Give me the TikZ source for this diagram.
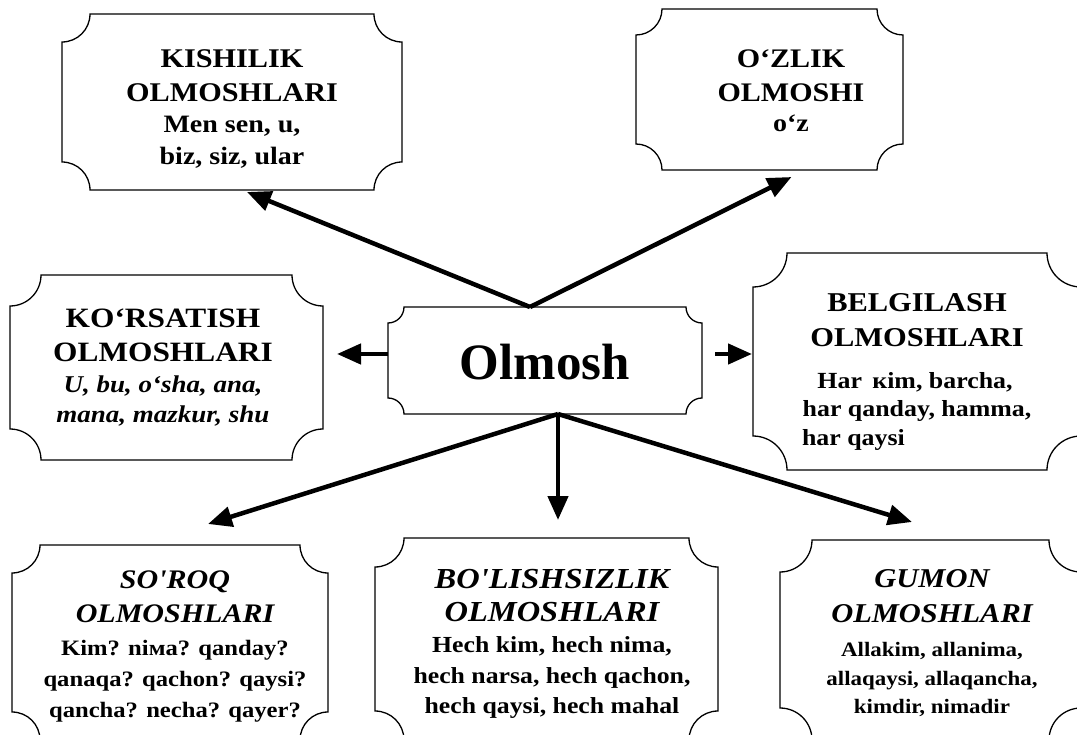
\documentclass[tikz,border=0pt]{standalone}
\usepackage{fontspec}
\setmainfont{Liberation Serif}[FakeStretch=1.12, Ligatures=TeXOff]
\newfontfamily\bigfont{Liberation Serif}
\usetikzlibrary{calc,arrows.meta}
\newcommand\fsz[1]{\fontsize{#1}{#1}\selectfont}
\newcommand\scallop[2]{%
  \draw[boxline] let \p1=(#1.south west), \p2=(#1.north east) in
   (\x1,\y1+#2) -- (\x1,\y2-#2) arc[start angle=270,end angle=360,radius=#2]
   -- (\x2-#2,\y2) arc[start angle=180,end angle=270,radius=#2]
   -- (\x2,\y1+#2) arc[start angle=90,end angle=180,radius=#2]
   -- (\x1+#2,\y1) arc[start angle=0,end angle=90,radius=#2] -- cycle;}
\tikzset{
  boxline/.style={line width=1.3pt, black},
  frame/.style={rectangle, inner sep=0pt, outer sep=0pt},
  txt/.style={anchor=base, inner sep=0pt, outer sep=0pt},
  ttl/.style={txt, font=\bfseries\fsz{#1}},
  ttli/.style={txt, font=\bfseries\itshape\fsz{#1}},
  bod/.style={txt, font=\bfseries\fsz{#1}},
  bodi/.style={txt, font=\bfseries\itshape\fsz{#1}},
  arr/.style={line width=4.5pt, -{Triangle[length=24pt,width=20pt]}}
}
\begin{document}
\begin{tikzpicture}[x=1pt,y=1pt]
\useasboundingbox (0,-735) rectangle (1077,0);
\fill[white] (0,-735) rectangle (1077,0);

% frames
\node[frame, minimum width=340pt, minimum height=176pt] (kish) at (232,-102) {};
\node[frame, minimum width=267pt, minimum height=161pt] (ozl) at (769.5,-89.5) {};
\node[frame, minimum width=313pt, minimum height=185pt] (kors) at (166.5,-367.5) {};
\node[frame, minimum width=314pt, minimum height=107pt] (olm) at (545,-360.5) {};
\node[frame, minimum width=328pt, minimum height=217pt] (belg) at (917,-361.5) {};
\node[frame, minimum width=316pt, minimum height=195pt] (soroq) at (170,-642.5) {};
\node[frame, minimum width=343pt, minimum height=202pt] (bol) at (546.5,-639) {};
\node[frame, minimum width=301pt, minimum height=200pt] (gum) at (930.5,-640) {};

\scallop{kish}{28pt}
\scallop{ozl}{26pt}
\scallop{kors}{31pt}
\scallop{olm}{16pt}
\scallop{belg}{34pt}
\scallop{soroq}{28pt}
\scallop{bol}{29pt}
\scallop{gum}{32pt}

% texts
\node[ttl=27] (kisht1) at (232,-68) {KISHILIK};
\node[ttl=27] (kisht2) at (232,-102) {OLMOSHLARI};
\node[bod=25] (kishb1) at (232,-133) {Men sen, u,};
\node[bod=25] (kishb2) at (232,-165) {biz, siz, ular};

\node[ttl=26.8] (ozlt1) at (791,-68) {O‘ZLIK};
\node[ttl=26.8] (ozlt2) at (791,-102) {OLMOSHI};
\node[bod=25] (ozlb1) at (791,-132) {o‘z};

\node[ttl=28] (korst1) at (163,-328) {KO‘RSATISH};
\node[ttl=28] (korst2) at (163,-362) {OLMOSHLARI};
\node[bodi=24.1] (korsb1) at (163,-392) {U, bu, o‘sha, ana,};
\node[bodi=24.1] (korsb2) at (163,-423) {mana, mazkur, shu};

\node[txt, font=\bigfont\bfseries\fsz{51}] (olmt) at (545,-380) {Olmosh};

\node[ttl=27.2] (belgt1) at (917,-312) {BELGILASH};
\node[ttl=27.2] (belgt2) at (917,-347) {OLMOSHLARI};
\node[bod=23.1] (belgb1) at (915,-389) {Har\hspace{0.45em}кim, barcha,};
\node[bod=23.1] (belgb2) at (917,-417) {har qanday, hamma,};
\node[bod=23.1, anchor=base west] (belgb3) at (802,-445) {har qaysi};

\node[ttli=26.8] (soroqt1) at (175,-588) {SO'ROQ};
\node[ttli=26.8] (soroqt2) at (175,-622) {OLMOSHLARI};
\node[bod=22] (soroqb1) at (175,-655) {Kim? niмa? qanday?};
\node[bod=22] (soroqb2) at (175,-686) {qanaqa? qachon? qaysi?};
\node[bod=22] (soroqb3) at (175,-717) {qancha? necha? qayer?};

\node[ttli=29] (bolt1) at (552,-588) {BO'LISHSIZLIK};
\node[ttli=29] (bolt2) at (552,-621) {OLMOSHLARI};
\node[bod=23] (bolb1) at (552,-652) {Hech kim, hech nima,};
\node[bod=23] (bolb2) at (552,-683) {hech narsa, hech qachon,};
\node[bod=23] (bolb3) at (552,-713) {hech qaysi, hech mahal};

\node[ttli=27.2] (gumt1) at (932,-587) {GUMON};
\node[ttli=27.2] (gumt2) at (932,-622) {OLMOSHLARI};
\node[bod=20.5] (gumb1) at (932,-656) {Allakim, allanima,};
\node[bod=20.5] (gumb2) at (932,-685) {allaqaysi, allaqancha,};
\node[bod=20.5] (gumb3) at (932,-713) {kimdir, nimadir};

% connectors
\draw[arr] ([xshift=-15pt]olm.north) -- ([xshift=15pt,yshift=-2pt]kish.south);
\draw[arr] ([xshift=-15pt]olm.north) -- ([xshift=22pt,yshift=-7pt]ozl.south);
\draw[arr] ([yshift=6.5pt]olm.west) -- ([xshift=14pt,yshift=13.5pt]kors.east);
\draw[arr] ([xshift=13pt,yshift=6.5pt]olm.east) -- ([xshift=-1pt,yshift=7.5pt]belg.west);
\draw[arr] ([xshift=13pt]olm.south) -- ([xshift=38pt,yshift=21pt]soroq.north);
\draw[arr] ([xshift=13pt]olm.south) -- ([xshift=11.5pt,yshift=18pt]bol.north);
\draw[arr] ([xshift=13pt]olm.south) -- ([xshift=-18.5pt,yshift=18pt]gum.north);
\end{tikzpicture}
\end{document}
